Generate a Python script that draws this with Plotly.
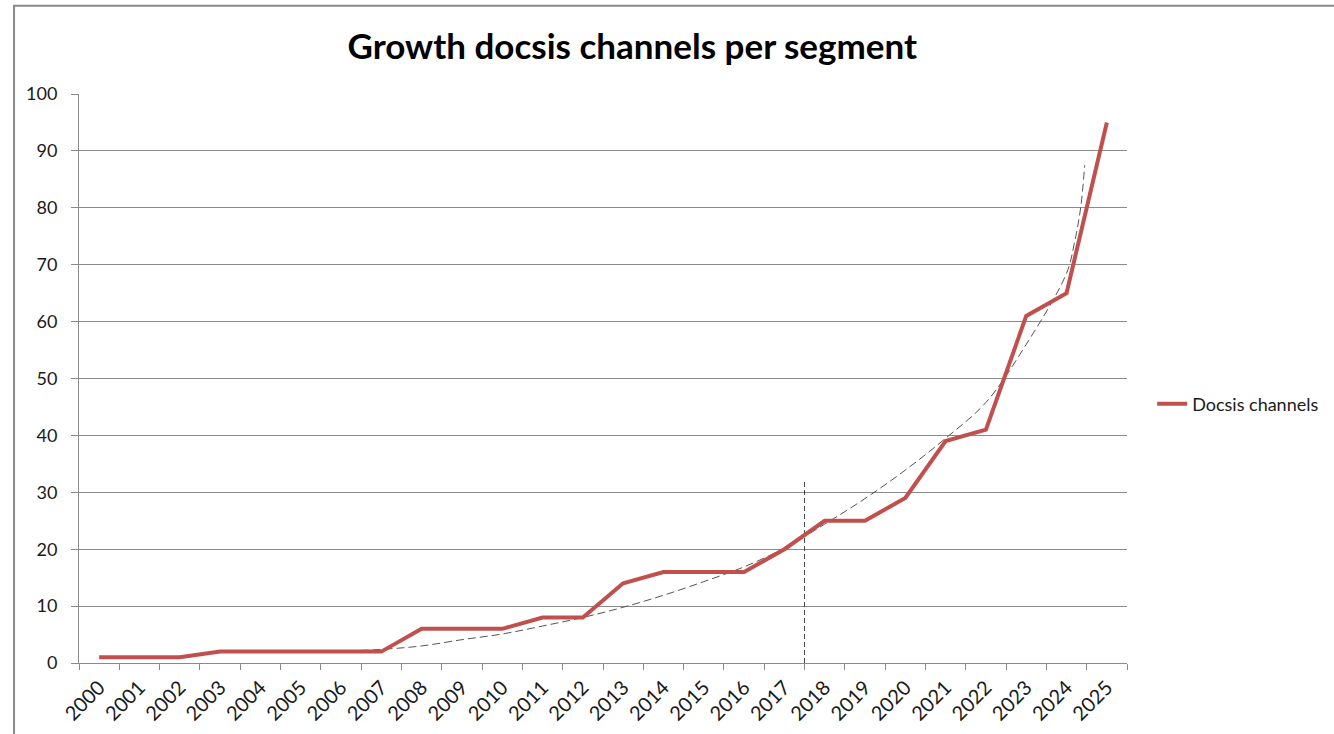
import plotly.graph_objects as go

# Docsis channels per segment, by year
years = list(range(2000, 2026))
channels = [1, 1, 1, 2, 2, 2, 2, 2, 6, 6, 6, 8, 8, 14, 16, 16, 16, 20,
            25, 25, 29, 39, 41, 61, 65, 95]

# Hand-fitted growth curve (dashed)
trend_x = [2004.7, 2006, 2007, 2008, 2009, 2010, 2011, 2012, 2013, 2014, 2015,
           2016, 2017, 2018, 2019, 2020, 2021, 2022, 2023, 2024, 2024.2,
           2024.35, 2024.45]
trend_y = [1.9, 2.1, 2.4, 3.0, 4.1, 5.1, 6.5, 8.0, 9.8, 11.9, 14.3,
           16.9, 20.2, 24.4, 28.9, 33.9, 39.5, 45.8, 56.0, 68.5, 74.0,
           80.0, 87.5]

# Marker separating history from forecast
split_x = [2017.5, 2017.5]
split_y = [0, 32]

y_ticks = list(range(0, 101, 10))

FONT = "Lato"
GRID = "#8a8a8a"
TEXT = "#1a1a1a"

fig = go.Figure()

fig.add_trace(go.Scatter(
    x=trend_x, y=trend_y, mode="lines", line_shape="spline",
    line=dict(color="#555555", width=1, dash="8px,4px"),
    showlegend=False, hoverinfo="skip"))

fig.add_trace(go.Scatter(
    x=split_x, y=split_y, mode="lines",
    line=dict(color="#444444", width=1, dash="5px,3px"),
    showlegend=False, hoverinfo="skip"))

fig.add_trace(go.Scatter(
    x=years, y=channels, mode="lines", name="Docsis channels",
    line=dict(color="#C0504D", width=4)))

fig.update_layout(
    width=1334, height=734,
    margin=dict(l=79, r=207, t=94, b=71, autoexpand=False),
    paper_bgcolor="white", plot_bgcolor="white",
    font=dict(family=FONT, color=TEXT, size=18),
    title=dict(text="<b>Growth docsis channels per segment</b>",
               x=0.474, xref="container", xanchor="center",
               y=0.936, yref="container", yanchor="middle",
               font=dict(family=FONT, size=35, color="black")),
    legend=dict(x=1.024, y=0.455, xanchor="left", yanchor="middle",
                font=dict(family=FONT, size=18, color=TEXT),
                bgcolor="rgba(0,0,0,0)"),
    shapes=[dict(type="rect", xref="paper", yref="paper",
                 x0=-0.062, x1=1.5, y0=-0.5, y1=1.155,
                 line=dict(color="#8a8a8a", width=2))],
)

fig.update_xaxes(
    range=[1999.5, 2025.5], tickvals=years, ticktext=[str(y) for y in years],
    tickangle=-45, ticks="", showgrid=False, zeroline=False,
    showline=True, linecolor=GRID, linewidth=1,
    ticklabelstandoff=4,
    tickfont=dict(family=FONT, size=20, color=TEXT),
    minor=dict(tick0=1999.5, dtick=1, ticks="outside", ticklen=6,
               tickcolor=GRID, showgrid=False))

fig.update_yaxes(
    range=[0, 100], tickvals=y_ticks, ticks="outside", ticklen=7,
    tickcolor=GRID, showgrid=True, gridcolor=GRID, gridwidth=1,
    zeroline=False, showline=True, linecolor=GRID, linewidth=1,
    ticklabelstandoff=10,
    tickfont=dict(family=FONT, size=18, color=TEXT))

fig.write_html("out.html")
